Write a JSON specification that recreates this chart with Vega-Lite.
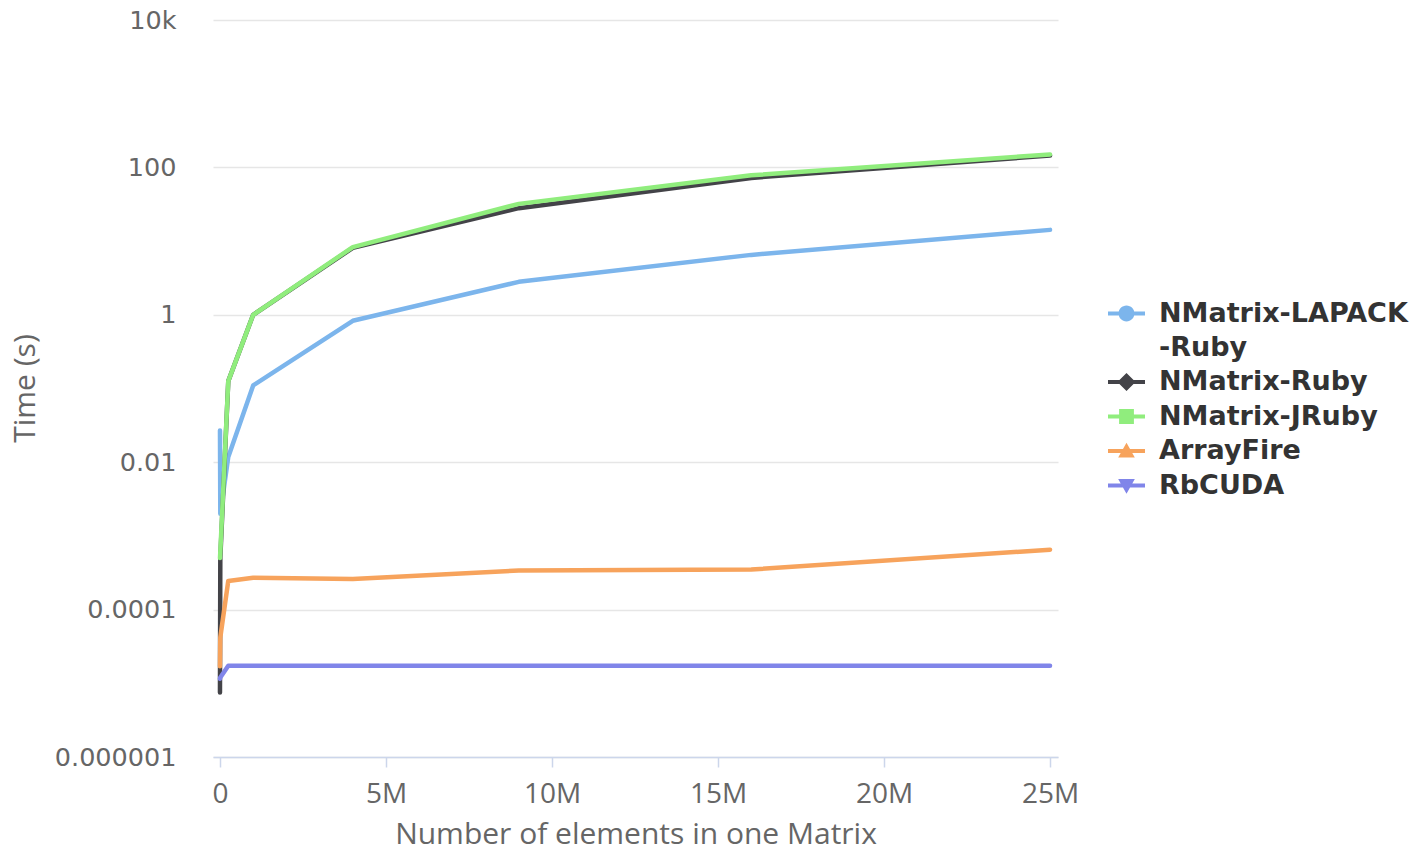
{
  "$schema": "https://vega.github.io/schema/vega-lite/v6.json",
  "width": 845,
  "height": 737,
  "autosize": {"type": "none"},
  "padding": {"left": 213, "top": 20, "right": 364, "bottom": 93},
  "background": "white",
  "config": {"view": {"stroke": null}},
  "data": {
    "values": [
      {"n": 100, "t": 0.027, "series": "NMatrix-LAPACK-Ruby"},
      {"n": 10000, "t": 0.002, "series": "NMatrix-LAPACK-Ruby"},
      {"n": 250000, "t": 0.0118, "series": "NMatrix-LAPACK-Ruby"},
      {"n": 1000000, "t": 0.11, "series": "NMatrix-LAPACK-Ruby"},
      {"n": 4000000, "t": 0.83, "series": "NMatrix-LAPACK-Ruby"},
      {"n": 9000000, "t": 2.8, "series": "NMatrix-LAPACK-Ruby"},
      {"n": 16000000, "t": 6.5, "series": "NMatrix-LAPACK-Ruby"},
      {"n": 25000000, "t": 14.2, "series": "NMatrix-LAPACK-Ruby"},
      {"n": 100, "t": 0.0000075, "series": "NMatrix-Ruby"},
      {"n": 10000, "t": 0.0005, "series": "NMatrix-Ruby"},
      {"n": 250000, "t": 0.126, "series": "NMatrix-Ruby"},
      {"n": 1000000, "t": 1.0, "series": "NMatrix-Ruby"},
      {"n": 4000000, "t": 8.1, "series": "NMatrix-Ruby"},
      {"n": 9000000, "t": 28, "series": "NMatrix-Ruby"},
      {"n": 16000000, "t": 72, "series": "NMatrix-Ruby"},
      {"n": 25000000, "t": 145, "series": "NMatrix-Ruby"},
      {"n": 100, "t": 0.0005, "series": "NMatrix-JRuby"},
      {"n": 10000, "t": 0.0006, "series": "NMatrix-JRuby"},
      {"n": 250000, "t": 0.126, "series": "NMatrix-JRuby"},
      {"n": 1000000, "t": 1.0, "series": "NMatrix-JRuby"},
      {"n": 4000000, "t": 8.3, "series": "NMatrix-JRuby"},
      {"n": 9000000, "t": 32, "series": "NMatrix-JRuby"},
      {"n": 16000000, "t": 78, "series": "NMatrix-JRuby"},
      {"n": 25000000, "t": 150, "series": "NMatrix-JRuby"},
      {"n": 100, "t": 0.000017, "series": "ArrayFire"},
      {"n": 10000, "t": 0.000042, "series": "ArrayFire"},
      {"n": 250000, "t": 0.000245, "series": "ArrayFire"},
      {"n": 1000000, "t": 0.00027, "series": "ArrayFire"},
      {"n": 4000000, "t": 0.00026, "series": "ArrayFire"},
      {"n": 9000000, "t": 0.00034, "series": "ArrayFire"},
      {"n": 16000000, "t": 0.00035, "series": "ArrayFire"},
      {"n": 25000000, "t": 0.00065, "series": "ArrayFire"},
      {"n": 100, "t": 0.0000115, "series": "RbCUDA"},
      {"n": 10000, "t": 0.000012, "series": "RbCUDA"},
      {"n": 250000, "t": 0.0000173, "series": "RbCUDA"},
      {"n": 1000000, "t": 0.0000173, "series": "RbCUDA"},
      {"n": 4000000, "t": 0.0000173, "series": "RbCUDA"},
      {"n": 9000000, "t": 0.0000173, "series": "RbCUDA"},
      {"n": 16000000, "t": 0.0000173, "series": "RbCUDA"},
      {"n": 25000000, "t": 0.0000173, "series": "RbCUDA"}
    ]
  },
  "encoding": {
    "x": {
      "field": "n",
      "type": "quantitative",
      "scale": {"domain": [-210000, 25240000], "nice": false, "zero": false},
      "axis": {
        "values": [0, 5000000, 10000000, 15000000, 20000000, 25000000],
        "labelExpr": "datum.value == 0 ? '0' : format(datum.value, '~s')",
        "grid": false,
        "domainColor": "#ccd6eb",
        "domainWidth": 1.5,
        "tickColor": "#ccd6eb",
        "tickWidth": 1.5,
        "tickSize": 10,
        "labelFont": "Open Sans",
        "labelFontSize": 28,
        "labelColor": "#666666",
        "labelPadding": 13,
        "labelFlush": false,
        "title": "Number of elements in one Matrix",
        "titleFont": "Open Sans",
        "titleFontSize": 30,
        "titleFontWeight": "normal",
        "titleColor": "#666666",
        "titleY": 77,
        "titleBaseline": "middle"
      }
    },
    "y": {
      "field": "t",
      "type": "quantitative",
      "scale": {"type": "log", "domain": [0.000001, 10000], "nice": false},
      "axis": {
        "values": [0.000001, 0.0001, 0.01, 1, 100, 10000],
        "labelExpr": "datum.value >= 10000 ? '10k' : format(datum.value, '~f')",
        "grid": true,
        "gridColor": "#e6e6e6",
        "gridWidth": 1.5,
        "domain": false,
        "ticks": false,
        "labelFont": "DejaVu Sans",
        "labelFontSize": 25.5,
        "labelColor": "#666666",
        "labelPadding": 37,
        "title": "Time (s)",
        "titleFont": "Open Sans",
        "titleFontSize": 30,
        "titleFontWeight": "normal",
        "titleColor": "#666666",
        "titleAngle": -90,
        "titleX": -188,
        "titleY": 368,
        "titleAlign": "center",
        "titleBaseline": "middle"
      }
    },
    "color": {
      "field": "series",
      "type": "nominal",
      "scale": {
        "domain": ["NMatrix-LAPACK-Ruby", "NMatrix-Ruby", "NMatrix-JRuby", "ArrayFire", "RbCUDA"],
        "range": ["#7cb5ec", "#434348", "#90ed7d", "#f7a35c", "#8085e9"]
      },
      "legend": {
        "title": null,
        "orient": "none",
        "legendX": 895,
        "legendY": 275,
        "padding": 0,
        "symbolSize": 1369,
        "symbolOpacity": 1,
        "symbolStrokeWidth": 0,
        "labelFont": "DejaVu Sans",
        "labelFontSize": 27,
        "labelFontWeight": "bold",
        "labelColor": "#333333",
        "labelOffset": 14,
        "labelLimit": 400,
        "rowPadding": 2.5,
        "labelExpr": "datum.label === 'NMatrix-LAPACK-Ruby' ? ['NMatrix-LAPACK', '-Ruby'] : datum.label",
        "encode": {"labels": {"update": {"lineHeight": {"value": 34}}}}
      }
    }
  },
  "layer": [
    {
      "mark": {"type": "line", "strokeWidth": 4.5, "strokeCap": "round", "strokeJoin": "round"}
    },
    {
      "mark": {"type": "point", "filled": true, "opacity": 0},
      "encoding": {
        "shape": {
          "field": "series",
          "type": "nominal",
          "scale": {
            "domain": ["NMatrix-LAPACK-Ruby", "NMatrix-Ruby", "NMatrix-JRuby", "ArrayFire", "RbCUDA"],
            "range": [
              "M-1,-0.11H1V0.11H-1Z M-0.43,0A0.43,0.43,0,1,1,0.43,0A0.43,0.43,0,1,1,-0.43,0Z",
              "M-1,-0.11H1V0.11H-1Z M0,-0.49L0.49,0L0,0.49L-0.49,0Z",
              "M-1,-0.11H1V0.11H-1Z M-0.4,-0.4H0.4V0.4H-0.4Z",
              "M-1,-0.11H1V0.11H-1Z M0,-0.45L0.45,0.35L-0.45,0.35Z",
              "M-1,-0.11H1V0.11H-1Z M0,0.45L-0.45,-0.35L0.45,-0.35Z"
            ]
          },
          "legend": {
            "title": null,
            "orient": "none",
            "legendX": 895,
            "legendY": 275,
            "padding": 0,
            "symbolSize": 1369,
            "symbolOpacity": 1,
            "symbolStrokeWidth": 0,
            "labelFont": "DejaVu Sans",
            "labelFontSize": 27,
            "labelFontWeight": "bold",
            "labelColor": "#333333",
            "labelOffset": 14,
            "labelLimit": 400,
            "rowPadding": 2.5,
            "labelExpr": "datum.label === 'NMatrix-LAPACK-Ruby' ? ['NMatrix-LAPACK', '-Ruby'] : datum.label",
            "encode": {"labels": {"update": {"lineHeight": {"value": 34}}}}
          }
        }
      }
    }
  ]
}
